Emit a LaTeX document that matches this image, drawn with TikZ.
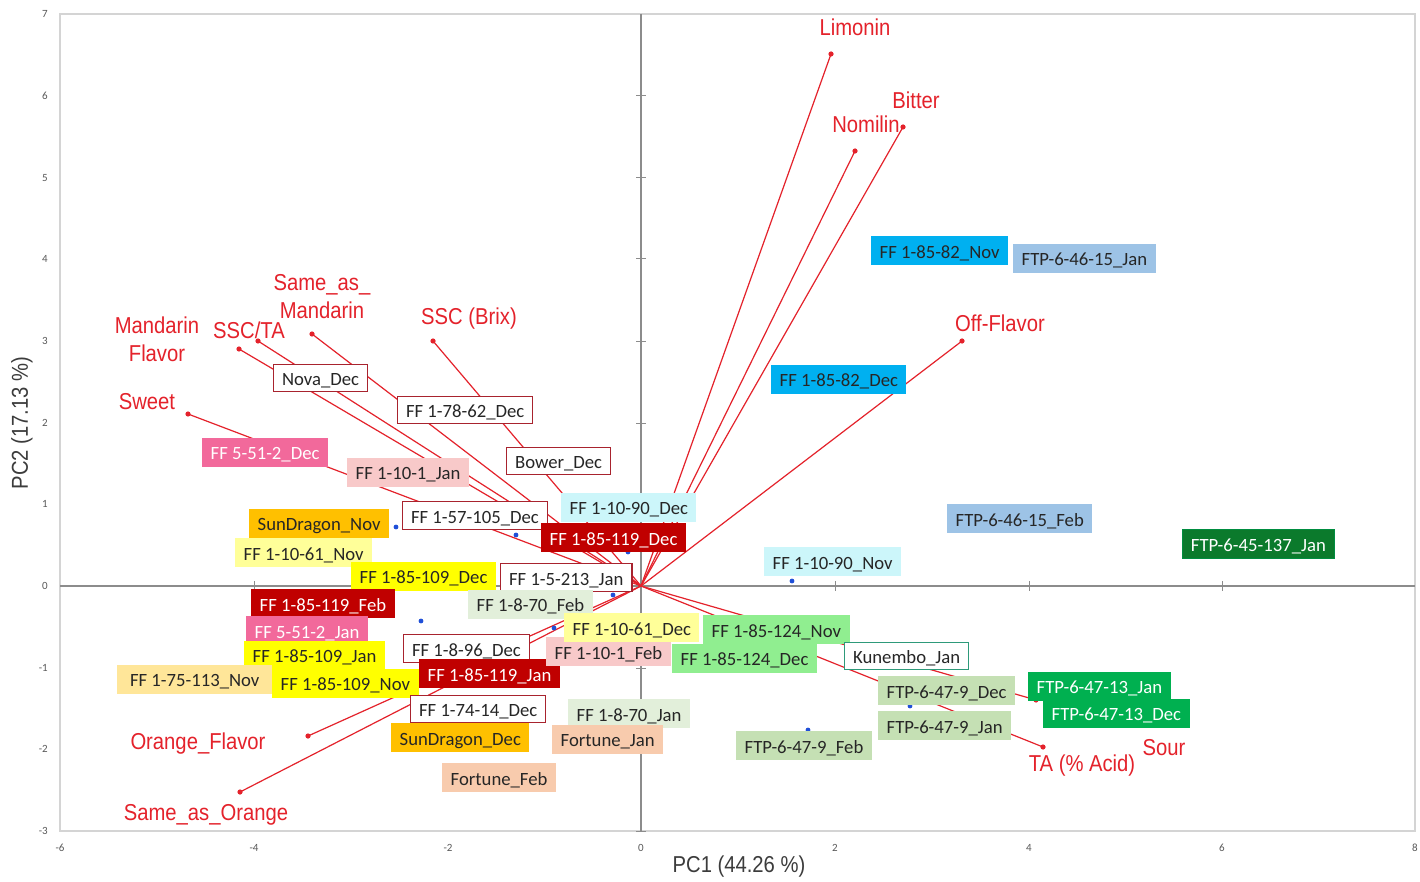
\documentclass[tikz,border=0pt]{standalone}
\usepackage{fontspec}
\setmainfont{Carlito}
\newfontfamily\narrowfont[FakeStretch=0.88]{Liberation Sans}
\definecolor{redv}{HTML}{E4222B}
\definecolor{boxred}{HTML}{A8232E}
\definecolor{framec}{HTML}{D4D4D4}
\definecolor{axisc}{HTML}{8C8C8C}
\definecolor{tickc}{HTML}{595959}
\definecolor{txt}{HTML}{262626}
\definecolor{bluedot}{HTML}{1F4FD8}
\definecolor{cdr}{HTML}{C00000}
\definecolor{chp}{HTML}{F2699B}
\definecolor{clp}{HTML}{F8C9C9}
\definecolor{ccy}{HTML}{CCF6FA}
\definecolor{coy}{HTML}{FFC000}
\definecolor{cpy}{HTML}{FFFF99}
\definecolor{cye}{HTML}{FFFF00}
\definecolor{cpg}{HTML}{E2EFDA}
\definecolor{clg}{HTML}{90EE90}
\definecolor{csg}{HTML}{C5E0B4}
\definecolor{cgr}{HTML}{00B050}
\definecolor{cdg}{HTML}{0B7A2C}
\definecolor{cpe}{HTML}{F8CBAD}
\definecolor{clo}{HTML}{FFE699}
\definecolor{cbl}{HTML}{00B0F0}
\definecolor{csb}{HTML}{9DC3E6}
\definecolor{cteal}{HTML}{2E9A7A}
\newcommand\lblfont{\fontsize{18.7}{20}\selectfont}
\newcommand\redfont{\narrowfont\fontsize{23}{26}\selectfont}
\newcommand\ticfont{\fontsize{11}{12}\selectfont}
\tikzset{
  lbl/.style={anchor=west, font=\lblfont, inner xsep=8.5pt, inner ysep=0pt,
    text height=15pt, text depth=0pt, minimum height=29pt, text=txt},
  wb/.style={lbl, fill=white, draw=boxred, line width=1.2pt, minimum height=27.5pt},
  tb/.style={lbl, fill=white, draw=cteal, line width=1.2pt, minimum height=27.5pt},
  dr/.style={lbl, fill=cdr, text=white},
  hp/.style={lbl, fill=chp, text=white},
  lp/.style={lbl, fill=clp},
  cy/.style={lbl, fill=ccy},
  oy/.style={lbl, fill=coy},
  py/.style={lbl, fill=cpy},
  ye/.style={lbl, fill=cye},
  pg/.style={lbl, fill=cpg},
  lg/.style={lbl, fill=clg},
  sg/.style={lbl, fill=csg},
  gr/.style={lbl, fill=cgr, text=white},
  dg/.style={lbl, fill=cdg, draw=cgr!80!black, line width=0.8pt, text=white},
  pe/.style={lbl, fill=cpe},
  lo/.style={lbl, fill=clo},
  bl/.style={lbl, fill=cbl},
  sb/.style={lbl, fill=csb},
  vec/.style={draw=redv, line width=1.2pt},
  rlab/.style={font=\redfont, text=redv, inner sep=0pt, text height=16.5pt, text depth=0pt},
  tick/.style={font=\ticfont, text=tickc, inner sep=1pt},
  axtitle/.style={font=\redfont, text=txt!90, inner sep=0pt}
}
\begin{document}
\begin{tikzpicture}[x=1pt,y=-1pt]
\useasboundingbox (0,0) rectangle (1420,882);
\fill[white] (0,0) rectangle (1420,882);
% frame and axes
\draw[framec, line width=1.5pt] (60,14) rectangle (1415,831);
\coordinate (o) at (641,586);
\coordinate (xl) at (60,586);
\coordinate (xr) at (1415,586);
\coordinate (yt) at (641,14);
\coordinate (yb) at (641,831);
\draw[axisc, line width=1.2pt] (xl) -- (xr);
\draw[axisc, line width=1.2pt] (yt) -- (yb);
\foreach \py in {96,178,259,341,423,504,668,749,831}
  \draw[axisc, line width=1pt] (636,\py) -- (646,\py);
\foreach \px in {254,448,835,1029,1222}
  \draw[axisc, line width=1pt] (\px,581) -- (\px,591);
% tick labels
\foreach \v/\px [count=\i] in {-6/60,-4/254,-2/448,0/641,2/835,4/1029,6/1222,8/1415}
  \node[tick] (xt\i) at (\px,848) {\v};
\foreach \v/\py [count=\i] in {7/14,6/96,5/178,4/259,3/341,2/423,1/504,0/586,-1/668,-2/749,-3/831}
  \node[tick, anchor=east] (yt\i) at (49,\py) {\v};
\node[axtitle] (pc1) at (739,867) {PC1 (44.26 \%)};
\node[axtitle, rotate=90] (pc2) at (22,423) {PC2 (17.13 \%)};
% loading vectors
\coordinate (lim) at (831,54);
\coordinate (nom) at (855,151);
\coordinate (bit) at (903,127);
\coordinate (off) at (962,341);
\coordinate (ssc) at (433,341);
\coordinate (sam) at (312,334);
\coordinate (ssta) at (258,341);
\coordinate (manf) at (239,349);
\coordinate (swe) at (188,414);
\coordinate (orf) at (308,736);
\coordinate (sao) at (240,792);
\coordinate (ta) at (1043,747);
\coordinate (sour) at (1036,700);
\foreach \e in {lim,nom,bit,off,ssc,sam,ssta,manf,swe,orf,sao,ta,sour}{
  \draw[vec] (o) -- (\e);
  \fill[redv] (\e) circle (2.6);
}
% loading labels
\node[rlab] (llim) at (855,27) {Limonin};
\node[rlab] (lnom) at (866,124) {Nomilin};
\node[rlab] (lbit) at (916,100) {Bitter};
\node[rlab] (loff) at (1000,323) {Off-Flavor};
\node[rlab] (lssc) at (469,316) {SSC (Brix)};
\node[rlab] (lsam1) at (322,282) {Same\_as\_};
\node[rlab] (lsam2) at (322,310) {Mandarin};
\node[rlab] (lssta) at (249,330) {SSC/TA};
\node[rlab] (lman1) at (157,325) {Mandarin};
\node[rlab] (lman2) at (157,353) {Flavor};
\node[rlab] (lswe) at (147,401) {Sweet};
\node[rlab] (lorf) at (198,741) {Orange\_Flavor};
\node[rlab] (lsao) at (206,812) {Same\_as\_Orange};
\node[rlab] (lta) at (1082,763) {TA (\% Acid)};
\node[rlab] (lsour) at (1164,747) {Sour};
% sample score points
\foreach \px/\py in {396/527,516/535,628/552,613/595,421/621,554/628,792/581,808/730,910/706}
  \fill[bluedot] (\px,\py) circle (2.4);
% sample labels
\node[wb] (nova) at (273,378) {Nova\_Dec};
\node[wb] (f17862) at (397,410) {FF 1-78-62\_Dec};
\node[wb] (bower) at (506,461) {Bower\_Dec};
\node[hp] (f5512d) at (202,452) {FF 5-51-2\_Dec};
\node[lp] (f1101j) at (347,472) {FF 1-10-1\_Jan};
\node[wb] (f157105) at (402,515.5) {FF 1-57-105\_Dec};
\node[cy] (f11090d) at (561,507) {FF 1-10-90\_Dec};
\node[dr] (f185119d) at (541,537.5) {FF 1-85-119\_Dec};
\node[oy] (sdn) at (249,523) {SunDragon\_Nov};
\node[py] (f11061n) at (235,552.5) {FF 1-10-61\_Nov};
\node[ye] (f185109d) at (351,576) {FF 1-85-109\_Dec};
\node[wb] (f15213) at (500,577.5) {FF 1-5-213\_Jan};
\node[pg] (f1870f) at (468,604) {FF 1-8-70\_Feb};
\node[dr] (f185119f) at (251,603.5) {FF 1-85-119\_Feb};
\node[hp] (f5512j) at (246,630.5) {FF 5-51-2\_Jan};
\node[ye] (f185109j) at (244,655) {FF 1-85-109\_Jan};
\node[lo, minimum width=155pt] (f175113) at (117,679) {FF 1-75-113\_Nov};
\node[ye] (f185109n) at (272,683) {FF 1-85-109\_Nov};
\node[wb] (f1896) at (403,648.5) {FF 1-8-96\_Dec};
\node[dr] (f185119j) at (419,673.5) {FF 1-85-119\_Jan};
\node[wb] (f17414) at (410,709) {FF 1-74-14\_Dec};
\node[oy] (sdd) at (391,737.5) {SunDragon\_Dec};
\node[pe] (fortf) at (442,777.5) {Fortune\_Feb};
\node[lp] (f1101f) at (546,651.5) {FF 1-10-1\_Feb};
\node[py] (f11061d) at (564,627.5) {FF 1-10-61\_Dec};
\node[lg] (f185124n) at (703,629.5) {FF 1-85-124\_Nov};
\node[lg] (f185124d) at (672,658) {FF 1-85-124\_Dec};
\node[tb] (kun) at (844,656) {Kunembo\_Jan};
\node[pg] (f1870j) at (568,713.5) {FF 1-8-70\_Jan};
\node[pe] (fortj) at (552,739) {Fortune\_Jan};
\node[sg] (ftp479f) at (736,745.5) {FTP-6-47-9\_Feb};
\node[sg] (ftp479d) at (878,690.5) {FTP-6-47-9\_Dec};
\node[sg] (ftp479j) at (878,725.5) {FTP-6-47-9\_Jan};
\node[gr] (ftp4713j) at (1028,686) {FTP-6-47-13\_Jan};
\node[gr] (ftp4713d) at (1043,713) {FTP-6-47-13\_Dec};
\node[bl] (f18582n) at (871,251) {FF 1-85-82\_Nov};
\node[sb] (ftp4615j) at (1013,258.5) {FTP-6-46-15\_Jan};
\node[bl] (f18582d) at (771,379) {FF 1-85-82\_Dec};
\node[sb] (ftp4615f) at (947,518.5) {FTP-6-46-15\_Feb};
\node[dg] (ftp45137) at (1182,544) {FTP-6-45-137\_Jan};
\node[cy] (f11090n) at (764,561.5) {FF 1-10-90\_Nov};
\end{tikzpicture}
\end{document}
